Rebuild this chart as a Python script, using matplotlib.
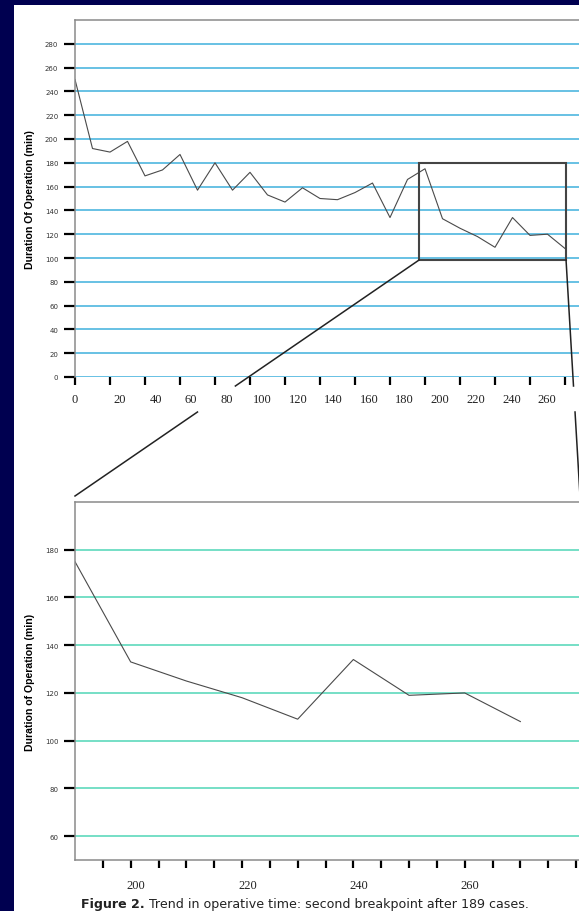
import numpy as np
import matplotlib.pyplot as plt
from matplotlib.lines import Line2D
from matplotlib.patches import Rectangle

# mean operative time per block of cases, whole series
top_x = list(range(0, 290, 10))
top_y = [250, 192, 189, 198, 169, 174, 187, 157, 180, 157,
         172, 153, 147, 159, 150, 149, 155, 163, 134, 166,
         175, 133, 125, 118, 109, 134, 119, 120, 108]
top_xticklabels = ['0', '20', '40', '60', '80', '100', '120', '140',
                   '160', '180', '200', '220', '240', '260']
top_yticks = list(range(0, 300, 20))

# detail after the second breakpoint
bot_x = [190, 200, 210, 220, 230, 240, 250, 260, 270]
bot_y = [175, 133, 125, 118, 109, 134, 119, 120, 108]
bot_xticklabels = ['200', '220', '240', '260']
bot_yticks = [60, 80, 100, 120, 140, 160, 180]

# area of the upper chart that is blown up below
zoom_x = (196.6, 280.6)
zoom_y = (98.3, 180)

ylabel_top = 'Duration Of Operation (min)'
ylabel_bot = 'Duration of Operation (min)'
caption_bold = 'Figure 2.'
caption_text = ' Trend in operative time: second breakpoint after 189 cases.'

W, H = 579, 912
fig = plt.figure(figsize=(W / 100, H / 100), dpi=100, facecolor='#000050')
fig.add_artist(Rectangle((14 / W, 0), 1, 1 - 6 / H, transform=fig.transFigure,
                         facecolor='white', edgecolor='none', zorder=-5))

spine_col = '#8a8a8a'
line_col = '#4a4a4a'


def style_axes(ax, grid_col, label_pad):
    ax.set_facecolor('none')
    for s in ['top', 'left', 'bottom']:
        ax.spines[s].set_color(spine_col)
        ax.spines[s].set_linewidth(1.1)
    ax.spines['right'].set_visible(False)
    ax.yaxis.grid(True, color=grid_col, linewidth=1.1)
    ax.set_axisbelow(True)
    ax.xaxis.remove_overlapping_locs = False
    ax.tick_params(axis='y', which='major', length=8, width=1.6, color='black',
                   labelsize=5, labelcolor='#333333', pad=4)
    ax.tick_params(axis='x', which='major', length=6, width=1.6, color='black',
                   labelbottom=False)
    ax.tick_params(axis='x', which='minor', length=0, pad=label_pad, labelsize=9,
                   labelcolor='#222222')
    for lab in ax.get_xticklabels(minor=True):
        lab.set_family('Liberation Serif')


# upper chart
ax1 = fig.add_axes([75 / W, 1 - 378 / H, 510 / W, 357 / H])
ax1.plot(top_x, top_y, color=line_col, linewidth=0.8)
ax1.set_xlim(0, 510 / 1.75)
ax1.set_ylim(0, 300)
ax1.set_yticks(top_yticks)
ax1.set_xticks(range(0, 290, 20))
lab_vals = np.array([int(t) for t in top_xticklabels], dtype=float)
lab_pos = np.where(lab_vals == 0, 0, 5.4 + 1.0167 * lab_vals)
ax1.set_xticks(lab_pos, top_xticklabels, minor=True)
style_axes(ax1, '#3fb0dc', 11.5)
ax1.spines['bottom'].set_visible(False)
ax1.set_ylabel(ylabel_top, fontsize=7.6, fontweight='bold', family='Liberation Sans')
ax1.yaxis.set_label_coords(-0.078, 0.5)
ax1.add_patch(Rectangle((zoom_x[0], zoom_y[0]), zoom_x[1] - zoom_x[0],
                        zoom_y[1] - zoom_y[0], fill=False, edgecolor='#444444',
                        linewidth=1.5, clip_on=False, zorder=3))

# lower chart
ax2 = fig.add_axes([75 / W, 1 - 861 / H, 505 / W, 358 / H])
ax2.plot(bot_x, bot_y, color=line_col, linewidth=0.8)
ax2.set_xlim(190, 190 + 505 / 5.567)
ax2.set_ylim(50, 200)
ax2.set_yticks(bot_yticks)
ax2.set_xticks(range(195, 285, 5))
bl = [int(t) + 1.0 for t in bot_xticklabels]
ax2.set_xticks(bl, bot_xticklabels, minor=True)
style_axes(ax2, '#4fd6b6', 13.5)
ax2.set_ylabel(ylabel_bot, fontsize=7.6, fontweight='bold', family='Liberation Sans')
ax2.yaxis.set_label_coords(-0.079, 0.5)

# connector lines from the zoom box to the lower chart, broken by the label band
to_fig = fig.transFigure.inverted()
gap_hi = ax1.transAxes.transform((0, 0))[1] - 9
gap_lo = gap_hi - 26
for fx, corner in [(zoom_x[0], 0), (zoom_x[1], 1)]:
    p0 = ax1.transData.transform((fx, zoom_y[0]))
    p1 = ax2.transAxes.transform((corner, 1)) + np.array([0, 6])

    def at_y(y):
        t = (p0[1] - y) / (p0[1] - p1[1])
        return p0 + t * (p1 - p0)

    for a, b in [(p0, at_y(gap_hi)), (at_y(gap_lo), p1)]:
        a, b = to_fig.transform(a), to_fig.transform(b)
        fig.add_artist(Line2D([a[0], b[0]], [a[1], b[1]], color='#222222',
                              linewidth=1.1, transform=fig.transFigure))

t1 = fig.text(81 / W, 1 - 905 / H, caption_bold, fontsize=9.1, fontweight='bold',
              family='DejaVu Sans', color='#222222', va='center')
ax2.annotate(caption_text, xy=(1, 0.5), xycoords=t1, va='center', ha='left',
             fontsize=9.1, family='DejaVu Sans', color='#222222',
             annotation_clip=False)

fig.savefig('out.png', dpi=100, facecolor=fig.get_facecolor())
